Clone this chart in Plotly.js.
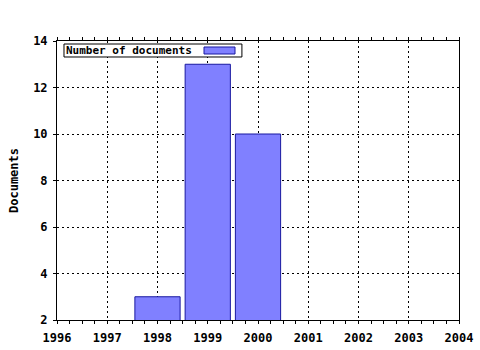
<!DOCTYPE html>
<html>
<head>
<meta charset="utf-8">
<script src="https://cdn.plot.ly/plotly-3.0.1.min.js"></script>
<style>html,body{margin:0;padding:0;background:#fff;}#chart{width:480px;height:350px;}</style>
</head>
<body>
<div id="chart"></div>
<script>
const years = [1998, 1999, 2000];
const documents = [3, 13, 10];
const seriesName = "Number of documents";
const yTitle = "Documents";

const barFill = "#8080ff";
const barLine = "#1818a0";
const font = {family: "DejaVu Sans Mono, monospace", size: 11, color: "#000", weight: "bold"};
const tickFont = {family: "DejaVu Sans Mono, monospace", size: 12, color: "#000", weight: "bold"};

const trace = {
  type: "bar",
  x: years,
  y: documents,
  name: seriesName,
  width: 0.9,
  marker: {color: barFill, line: {color: barLine, width: 1}},
  showlegend: false,
  hoverinfo: "x+y"
};

const layout = {
  width: 480, height: 350,
  margin: {l: 57, r: 21, t: 41, b: 30, pad: 0},
  paper_bgcolor: "#fff", plot_bgcolor: "#fff",
  font: font,
  xaxis: {
    range: [1996, 2004], dtick: 1, tick0: 1996, tickformat: "d",
    showline: true, linecolor: "#000", linewidth: 1, mirror: "allticks",
    ticks: "outside", ticklen: 3, tickcolor: "#000",
    minor: {dtick: 0.25, ticks: "outside", ticklen: 3, tickcolor: "#000", showgrid: false},
    showgrid: true, gridcolor: "#000", griddash: "2px,3px", gridwidth: 1,
    zeroline: false, fixedrange: true, tickfont: tickFont, ticklabelstandoff: 4
  },
  yaxis: {
    range: [2, 14], dtick: 2, tick0: 2,
    showline: true, linecolor: "#000", linewidth: 1, mirror: true,
    ticks: "outside", ticklen: 3, tickcolor: "#000",
    showgrid: true, gridcolor: "#000", griddash: "2px,3px", gridwidth: 1,
    zeroline: false, fixedrange: true, tickfont: tickFont, ticklabelstandoff: 3,
    title: {text: yTitle, font: tickFont, standoff: 11}
  },
  bargap: 0.1,
  shapes: [
    {type: "rect", xref: "paper", yref: "paper", x0: 0.0174, x1: 0.460, y0: 0.9427, y1: 0.9892,
     line: {color: "#000", width: 1}, fillcolor: "#fff", layer: "above"},
    {type: "rect", xref: "paper", yref: "paper", x0: 0.3657, x1: 0.4428, y0: 0.9534, y1: 0.9785,
     line: {color: barLine, width: 1}, fillcolor: barFill, layer: "above"}
  ],
  annotations: [
    {text: seriesName, xref: "paper", yref: "paper", x: 0.0174, y: 0.966,
     xanchor: "left", yanchor: "middle", showarrow: false, font: font, xshift: 0}
  ]
};

Plotly.newPlot("chart", [trace], layout, {staticPlot: true, displayModeBar: false});
</script>
</body>
</html>
